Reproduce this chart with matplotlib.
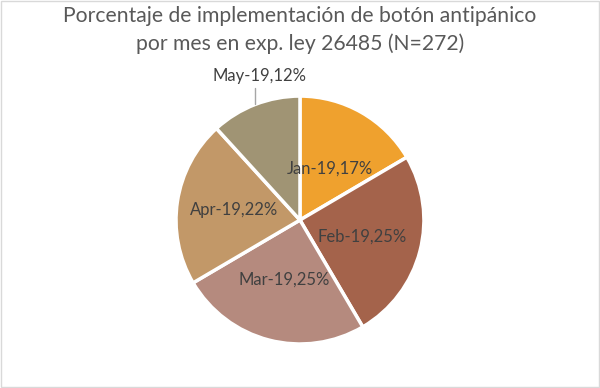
import numpy as np
import matplotlib.pyplot as plt
from matplotlib.patches import Rectangle

# data (counts consistent with N=272)
months = ["Jan-19", "Feb-19", "Mar-19", "Apr-19", "May-19"]
counts = [45, 68, 68, 59, 32]
colors = ["#EFA12E", "#A4634B", "#B58A7E", "#C29868", "#A09474"]
title = "Porcentaje de implementación de botón antipánico\npor mes en exp. ley 26485 (N=272)"

plt.rcParams['font.family'] = ['Lato', 'DejaVu Sans']

fig = plt.figure(figsize=(6, 3.88), dpi=100)
fig.patches.append(Rectangle((0.002, 0.002), 0.996, 0.995, transform=fig.transFigure,
                             fill=False, edgecolor="#D9D9D9", linewidth=1))

ax = fig.add_axes([0.5 - 0.2067, 0.433 - 0.3196, 0.4133, 0.639])
wedges, _ = ax.pie(counts, colors=colors, startangle=90, counterclock=False,
                   wedgeprops=dict(edgecolor="white", linewidth=2.5))
ax.set_xlim(-1, 1)
ax.set_ylim(-1, 1)

total = sum(counts)
dist = [0.48, 0.52, 0.50, 0.54, None]
for w, m, c, d in zip(wedges, months, counts, dist):
    ang = np.deg2rad((w.theta1 + w.theta2) / 2)
    label = f"{m},{round(100 * c / total)}%"
    if d is None:
        ax_, ay_ = np.cos(ang), np.sin(ang)
        ax.annotate(label, xy=(ax_, ay_), xytext=(ax_ + 0.035, 1.16),
                    ha="center", va="center", fontsize=12, color="#404040",
                    arrowprops=dict(arrowstyle="-", color="#A6A6A6", lw=1,
                                    shrinkA=1, shrinkB=0,
                                    connectionstyle="angle,angleA=0,angleB=90"))
    else:
        ax.text(d * np.cos(ang), d * np.sin(ang), label, ha="center", va="center",
                fontsize=12, color="#404040")

fig.text(0.5, 1 - 6 / 388, title, ha="center", va="top", fontsize=15.2,
         color="#595959", linespacing=1.45)

fig.savefig("out.png", dpi=100)
